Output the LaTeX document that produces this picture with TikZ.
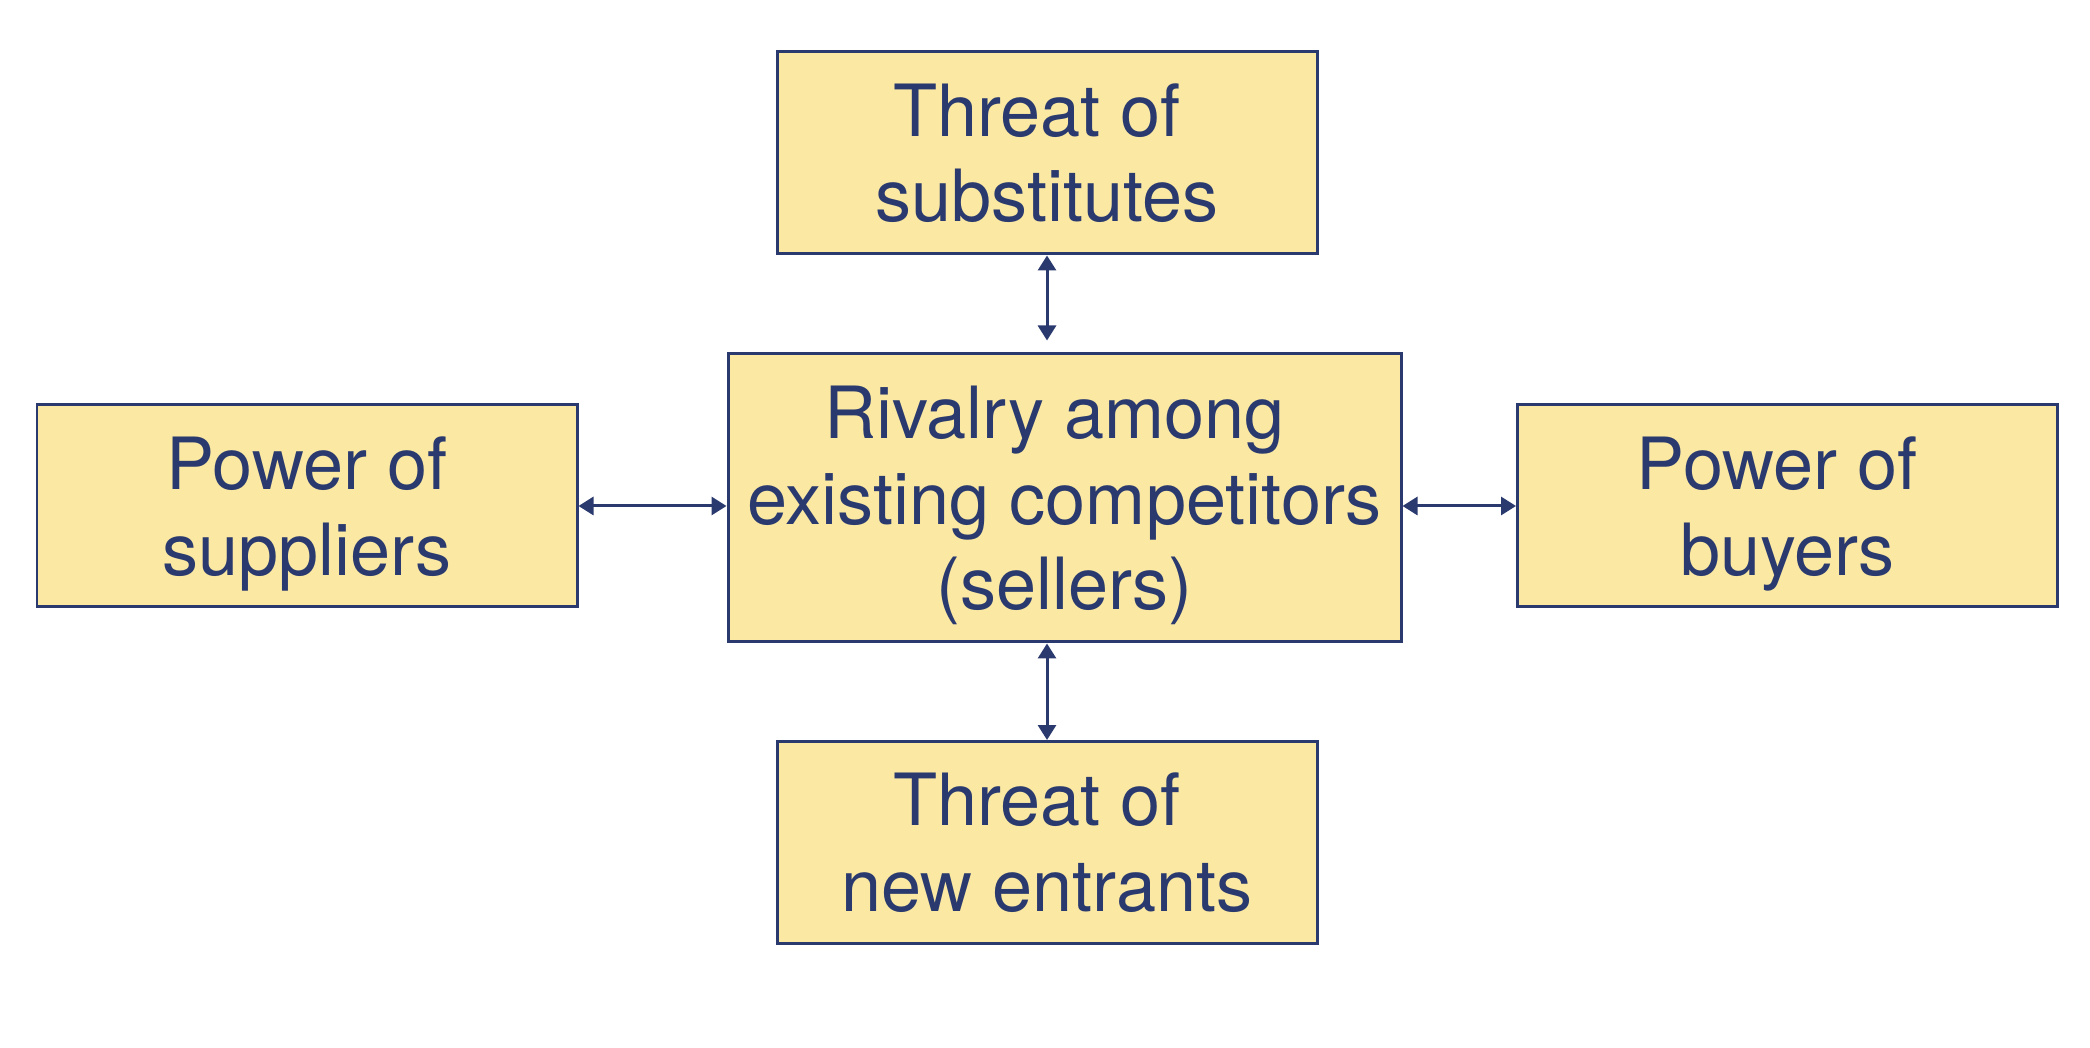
\documentclass[tikz,border=0pt]{standalone}
\usepackage{fontspec}
\setmainfont{TeX Gyre Heros}
\usetikzlibrary{arrows.meta}
\definecolor{navy}{RGB}{42,58,110}
\definecolor{paleyellow}{RGB}{251,233,163}
\begin{document}
\begin{tikzpicture}[x=1cm, y=1cm, >={Triangle[length=1.5mm,width=1.8mm]},
        force/.style={draw=navy, fill=paleyellow, line width=0.85pt, text=navy,
            minimum width=5.4cm, minimum height=2.02cm, inner sep=0pt, align=center,
            font=\fontsize{20.5pt}{24.3pt}\selectfont}]
        \useasboundingbox (0,0) rectangle (20.9,10.48);

        \node[force] (subst) at (10.47,8.95) {Threat of\hspace*{.28em}\\substitutes};
        \node[force, minimum width=6.73cm, minimum height=2.88cm] (rivalry) at (10.645,5.50)
            {Rivalry among\hspace*{.28em}\\existing competitors\\\smash{(sellers)}};
        \node[force] (suppliers) at (3.07,5.42) {Power of\\\smash{suppliers}};
        \node[force] (buyers) at (17.875,5.42) {Power of\hspace*{.28em}\\\smash{buyers}};
        \node[force] (entrants) at (10.47,2.055) {Threat of\hspace*{.28em}\\new entrants};

        \draw [<->, navy, line width=0.85pt, shorten >=0.12cm] (subst.south) -- (subst.south |- rivalry.north);
        \draw [<->, navy, line width=0.85pt] (entrants.north |- rivalry.south) -- (entrants.north);
        \draw [<->, navy, line width=0.85pt] (suppliers.east) -- (suppliers.east -| rivalry.west);
        \draw [<->, navy, line width=0.85pt] (buyers.west -| rivalry.east) -- (buyers.west);
    \end{tikzpicture}
\end{document}
